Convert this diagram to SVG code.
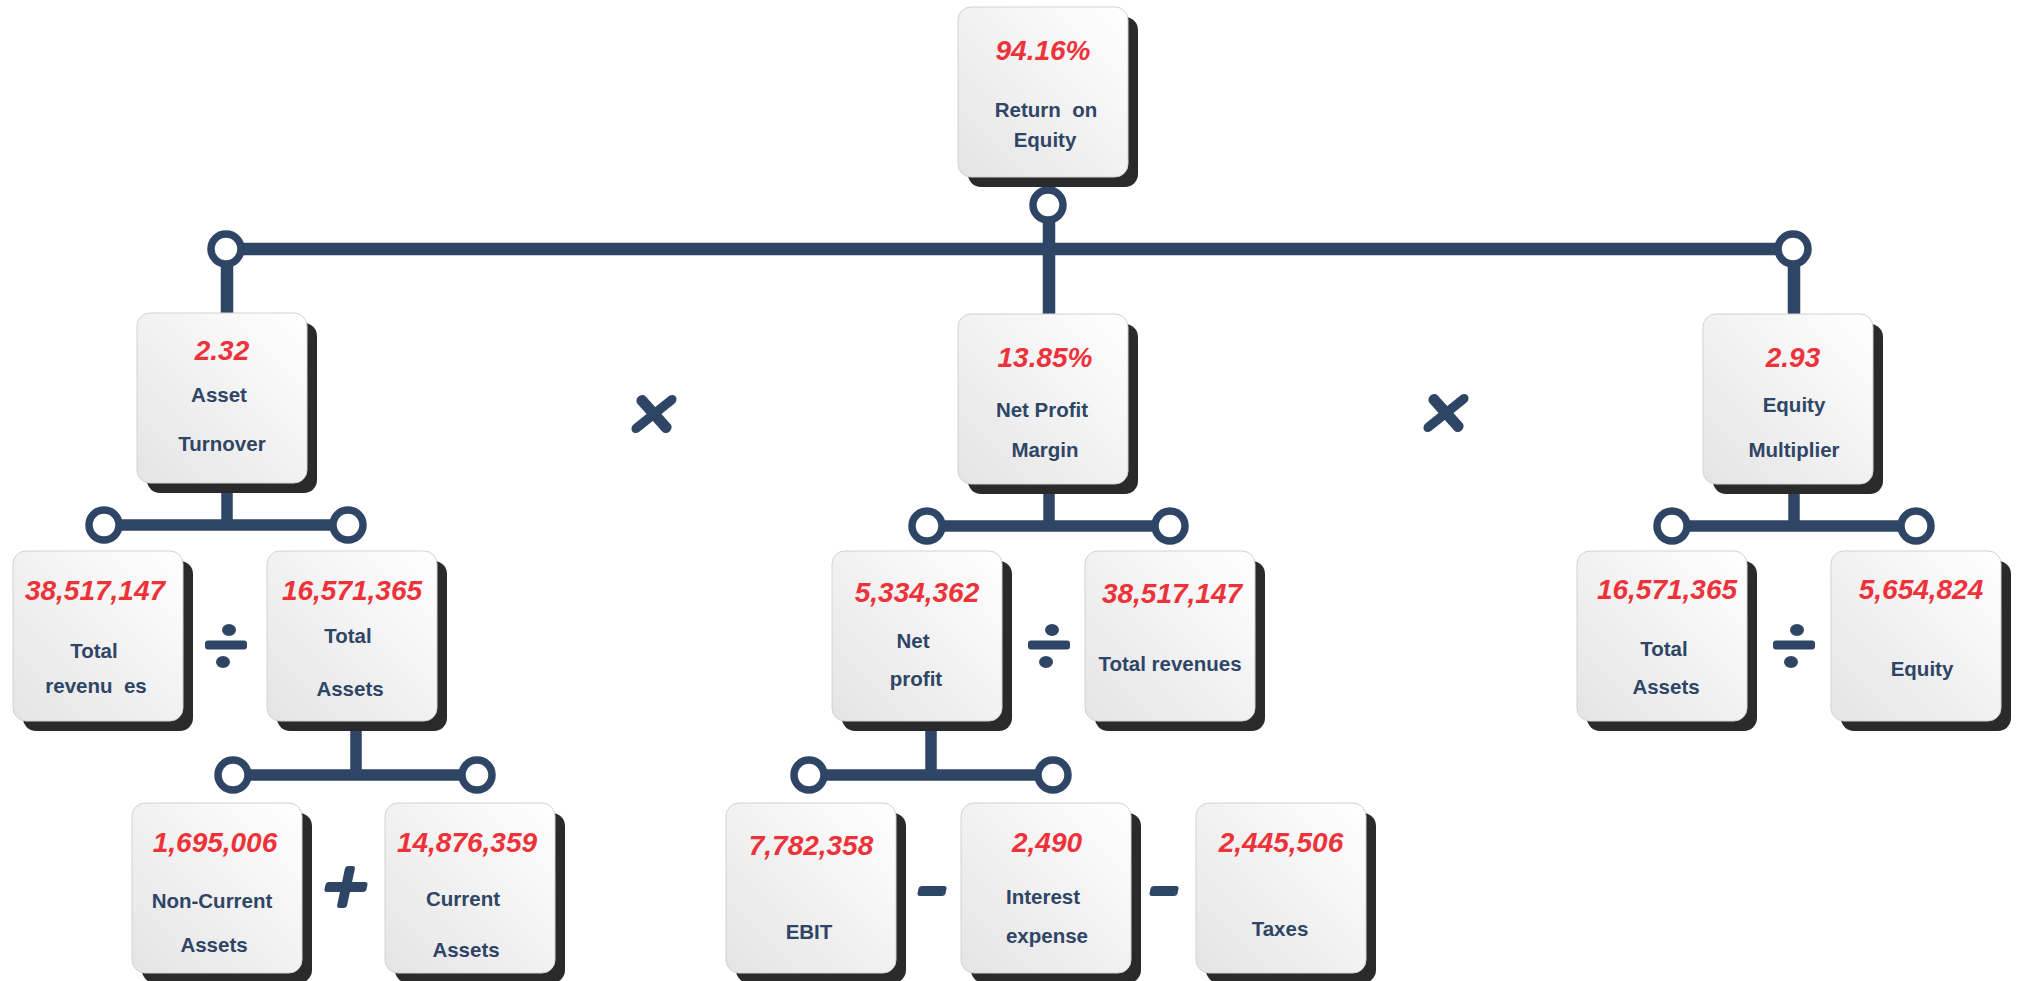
<svg xmlns="http://www.w3.org/2000/svg" width="2019" height="981" viewBox="0 0 2019 981">
<defs>
<linearGradient id="boxg" x1="1" y1="0" x2="0" y2="1">
<stop offset="0" stop-color="#ffffff"/>
<stop offset="1" stop-color="#e4e4e4"/>
</linearGradient>
<g id="box">
<rect x="10" y="10" width="170" height="170" rx="13" fill="#2a2a2a"/>
<rect x="0" y="0" width="170" height="170" rx="13" fill="url(#boxg)" stroke="#d2d2d2" stroke-width="1"/>
</g>
<g id="div">
<rect x="-21" y="-4.5" width="42" height="9" rx="3"/>
<ellipse cx="3" cy="-15" rx="7" ry="6"/>
<ellipse cx="-3" cy="17" rx="7" ry="6"/>
</g>
</defs>
<style>
.v{font-family:"Liberation Sans",Arial,sans-serif;font-weight:bold;font-style:italic;font-size:28px;fill:#ee3239;text-anchor:middle}
.l{font-family:"Liberation Sans",Arial,sans-serif;font-weight:bold;font-size:20.5px;fill:#2f4566;text-anchor:middle;white-space:pre}
.c{stroke:#2f4566;fill:none}
.r{fill:#fff;stroke:#2f4566;stroke-width:7.5}
.op{fill:#2f4566}
.x{stroke:#2f4566;stroke-width:10;stroke-linecap:round}
</style>
<g id="connectors">
<g class="c" stroke-width="12.5">
<line x1="1049" y1="177" x2="1049" y2="249"/>
<line x1="226" y1="249" x2="1793" y2="249"/>
<line x1="227" y1="249" x2="227" y2="313"/>
<line x1="1049" y1="249" x2="1049" y2="314"/>
<line x1="1794" y1="249" x2="1794" y2="314"/>
</g>
<g class="c" stroke-width="11.5">
<line x1="227" y1="483" x2="227" y2="525"/>
<line x1="104" y1="525" x2="348" y2="525"/>
<line x1="1049" y1="483" x2="1049" y2="526"/>
<line x1="927" y1="526" x2="1170" y2="526"/>
<line x1="1794" y1="483" x2="1794" y2="526"/>
<line x1="1672" y1="526" x2="1916" y2="526"/>
<line x1="356" y1="720" x2="356" y2="775"/>
<line x1="233" y1="775" x2="477" y2="775"/>
<line x1="931" y1="720" x2="931" y2="775"/>
<line x1="809" y1="775" x2="1053" y2="775"/>
</g>
<circle class="r" cx="1048" cy="205" r="15"/>
<circle class="r" cx="226" cy="249" r="15"/>
<circle class="r" cx="1793" cy="249" r="15"/>
<circle class="r" cx="104" cy="525" r="15"/>
<circle class="r" cx="348" cy="525" r="15"/>
<circle class="r" cx="927" cy="526" r="15"/>
<circle class="r" cx="1170" cy="526" r="15"/>
<circle class="r" cx="1672" cy="526" r="15"/>
<circle class="r" cx="1916" cy="526" r="15"/>
<circle class="r" cx="233" cy="775" r="15"/>
<circle class="r" cx="477" cy="775" r="15"/>
<circle class="r" cx="809" cy="775" r="15"/>
<circle class="r" cx="1053" cy="775" r="15"/>
</g>
<g id="node-roe">
<use href="#box" x="958" y="7"/>
<text class="v" x="1043" y="60">94.16%</text>
<text class="l" x="1046" y="117">Return  on</text>
<text class="l" x="1045" y="147">Equity</text>
</g>
<g id="node-asset-turnover">
<use href="#box" x="137" y="313"/>
<text class="v" x="222" y="360">2.32</text>
<text class="l" x="219" y="402">Asset</text>
<text class="l" x="222" y="451">Turnover</text>
</g>
<g id="node-net-profit-margin">
<use href="#box" x="958" y="314"/>
<text class="v" x="1045" y="367">13.85%</text>
<text class="l" x="1042" y="417">Net Profit</text>
<text class="l" x="1045" y="457">Margin</text>
</g>
<g id="node-equity-multiplier">
<use href="#box" x="1703" y="314"/>
<text class="v" x="1793" y="367">2.93</text>
<text class="l" x="1794" y="412">Equity</text>
<text class="l" x="1794" y="457">Multiplier</text>
</g>
<g id="node-total-revenues-1">
<use href="#box" x="13" y="551"/>
<text class="v" x="95" y="600">38,517,147</text>
<text class="l" x="94" y="658">Total</text>
<text class="l" x="96" y="693">revenu  es</text>
</g>
<g id="node-total-assets-1">
<use href="#box" x="267" y="551"/>
<text class="v" x="352" y="600">16,571,365</text>
<text class="l" x="348" y="643">Total</text>
<text class="l" x="350" y="696">Assets</text>
</g>
<g id="node-non-current-assets">
<use href="#box" x="132" y="803"/>
<text class="v" x="215" y="852">1,695,006</text>
<text class="l" x="212" y="908">Non-Current</text>
<text class="l" x="214" y="952">Assets</text>
</g>
<g id="node-current-assets">
<use href="#box" x="385" y="803"/>
<text class="v" x="467" y="852">14,876,359</text>
<text class="l" x="463" y="906">Current</text>
<text class="l" x="466" y="957">Assets</text>
</g>
<g id="node-net-profit">
<use href="#box" x="832" y="551"/>
<text class="v" x="917" y="602">5,334,362</text>
<text class="l" x="913" y="648">Net</text>
<text class="l" x="916" y="686">profit</text>
</g>
<g id="node-total-revenues-2">
<use href="#box" x="1085" y="551"/>
<text class="v" x="1172" y="603">38,517,147</text>
<text class="l" x="1170" y="671">Total revenues</text>
</g>
<g id="node-total-assets-2">
<use href="#box" x="1577" y="551"/>
<text class="v" x="1667" y="599">16,571,365</text>
<text class="l" x="1664" y="656">Total</text>
<text class="l" x="1666" y="694">Assets</text>
</g>
<g id="node-equity">
<use href="#box" x="1831" y="551"/>
<text class="v" x="1921" y="599">5,654,824</text>
<text class="l" x="1922" y="676">Equity</text>
</g>
<g id="node-ebit">
<use href="#box" x="726" y="803"/>
<text class="v" x="811" y="855">7,782,358</text>
<text class="l" x="809" y="939">EBIT</text>
</g>
<g id="node-interest-expense">
<use href="#box" x="961" y="803"/>
<text class="v" x="1047" y="852">2,490</text>
<text class="l" x="1043" y="904">Interest</text>
<text class="l" x="1047" y="943">expense</text>
</g>
<g id="node-taxes">
<use href="#box" x="1196" y="803"/>
<text class="v" x="1281" y="852">2,445,506</text>
<text class="l" x="1280" y="936">Taxes</text>
</g>
<g id="operators">
<g transform="translate(654,414) skewX(-10)"><line class="x" x1="-15" y1="-14" x2="15" y2="14"/><line class="x" x1="15" y1="-14" x2="-15" y2="14"/></g>
<g transform="translate(1446,413) skewX(-10)"><line class="x" x1="-15" y1="-14" x2="15" y2="14"/><line class="x" x1="15" y1="-14" x2="-15" y2="14"/></g>
<use href="#div" class="op" x="226" y="645"/>
<use href="#div" class="op" x="1049" y="645"/>
<use href="#div" class="op" x="1794" y="645"/>
<g transform="translate(346,887) skewX(-12)" class="op"><rect x="-21" y="-5" width="42" height="10" rx="3"/><rect x="-5" y="-21" width="10" height="42" rx="3"/></g>
<g transform="translate(932,891) skewX(-12)" class="op"><rect x="-14" y="-5" width="28" height="10" rx="3"/></g>
<g transform="translate(1164,891) skewX(-12)" class="op"><rect x="-14" y="-5" width="28" height="10" rx="3"/></g>
</g>
</svg>
